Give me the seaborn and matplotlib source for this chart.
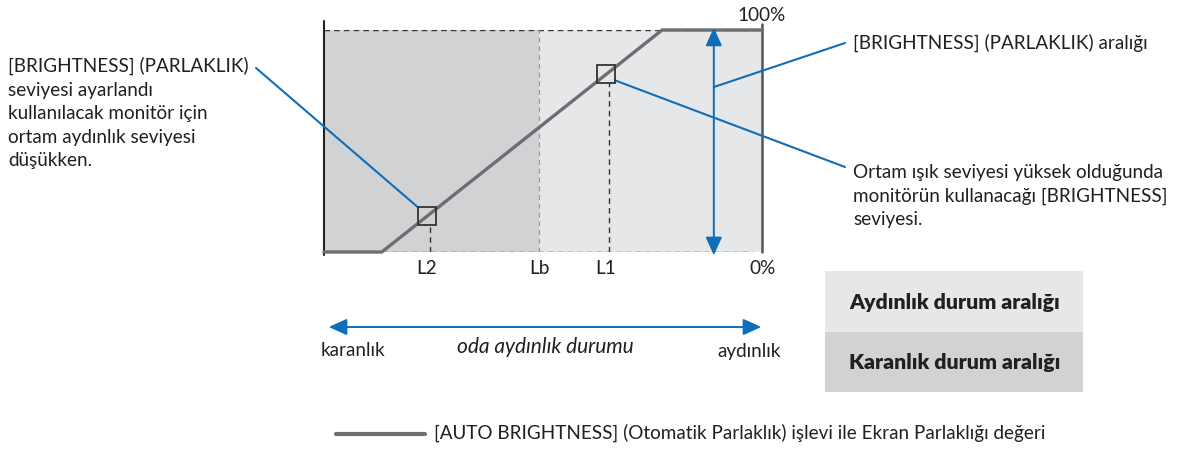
import numpy as np
import pandas as pd
import matplotlib.pyplot as plt
from matplotlib.patches import Rectangle, FancyArrowPatch, ArrowStyle
import seaborn as sns

# room light level (0 = dark, 100 = bright) vs screen brightness (%)
light = [0, 13.2, 77.2, 100]
brightness = [0, 0, 100, 100]
curve = pd.DataFrame({"light": light, "brightness": brightness})

marks = ["L2", "Lb", "L1"]
mark_x = [23.5, 49.1, 64.4]
pct_labels = ["0%", "100%"]

left_text = ("[BRIGHTNESS] (PARLAKLIK)\nseviyesi ayarlandı\nkullanılacak monitör için\n"
             "ortam aydınlık seviyesi\ndüşükken.")
range_text = "[BRIGHTNESS] (PARLAKLIK) aralığı"
high_text = "Ortam ışık seviyesi yüksek olduğunda\nmonitörün kullanacağı [BRIGHTNESS]\nseviyesi."
box_labels = ["Aydınlık durum aralığı", "Karanlık durum aralığı"]
legend_text = "[AUTO BRIGHTNESS] (Otomatik Parlaklık) işlevi ile Ekran Parlaklığı değeri"

BLUE = "#0F6EB9"
GRAY = "#6D6E71"
LIGHT = "#E6E7E8"
DARK = "#D1D2D4"
INK = "#231F20"

sns.set_theme(style="white")
plt.rcParams["font.family"] = ["Lato", "DejaVu Sans"]
FS = 13.6

W, H = 1192, 453
fig = plt.figure(figsize=(W / 100, H / 100), dpi=100)

# chart area in pixels
x0, x1, ytop, ybot = 324, 762, 30, 252
ax = fig.add_axes([x0 / W, 1 - ybot / H, (x1 - x0) / W, (ybot - ytop) / H])
ax.set_xlim(0, 100)
ax.set_ylim(0, 100)
ax.axis("off")

ax.add_patch(Rectangle((0, 0), mark_x[1], 100, color=DARK, lw=0, zorder=0))
ax.add_patch(Rectangle((mark_x[1], 0), 100 - mark_x[1], 100, color=LIGHT, lw=0, zorder=0))

dash = (0, (4, 3))
ax.plot([0, 100], [100, 100], color="#333333", lw=1, ls=dash, zorder=1)
ax.plot([0, 98], [0, 0], color="#333333", lw=1, ls=dash, zorder=1)
ax.plot([mark_x[1]] * 2, [0, 100], color="#9a9a9a", lw=0.9, ls=dash, zorder=1)
ax.plot([0, 0], [-1.5, 104], color="#222222", lw=1.5, clip_on=False, zorder=3)
ax.plot([100, 100], [0, 102.5], color="#555555", lw=1.8, clip_on=False, zorder=3)

sns.lineplot(data=curve, x="light", y="brightness", ax=ax, color=GRAY, lw=2.4,
             zorder=4, clip_on=False)

def on_curve(x):
    return float(np.interp(x, light, brightness))

hx, hy = 9 / 4.38, 9 / 2.22
for lx in [mark_x[0], mark_x[2]]:
    ly = on_curve(lx)
    ax.add_patch(Rectangle((lx - hx, ly - hy), 2 * hx, 2 * hy, fill=False,
                           ec="#333333", lw=1.3, zorder=5))
    ax.plot([lx + 0.6] * 2, [0, ly - hy], color="#333333", lw=1, ls=dash, zorder=2)

for name, lx in zip(marks, mark_x):
    ax.text(lx, -7.5, name, ha="center", va="center", fontsize=FS, color=INK)
ax.text(100.2, -7.5, pct_labels[0], ha="center", va="center", fontsize=FS, color=INK)
ax.text(100, 106.5, pct_labels[1], ha="center", va="center", fontsize=FS, color=INK)

# brightness range arrow
ax.add_patch(FancyArrowPatch((89, -2.7), (89, 102.3), arrowstyle=ArrowStyle("<|-|>", head_length=1.1, head_width=0.5),
                             mutation_scale=10, color=BLUE, lw=1.4, clip_on=False, zorder=6))

# leader lines
lp = dict(arrowstyle="-", color=BLUE, lw=1.5, shrinkA=0, shrinkB=0)
y2 = on_curve(mark_x[0])
ax.annotate("", xy=(mark_x[0] - hx, y2 + hy), xytext=(256, H - 68), textcoords="figure pixels",
            arrowprops=lp, annotation_clip=False)
ax.annotate("", xy=(89, 74.3), xytext=(845, H - 43), textcoords="figure pixels",
            arrowprops=lp, annotation_clip=False)
y1 = on_curve(mark_x[2])
ax.annotate("", xy=(mark_x[2] + hx, y1 - 2.7), xytext=(845, H - 167), textcoords="figure pixels",
            arrowprops=lp, annotation_clip=False)

# overlay in pixel coordinates for the text blocks
ov = fig.add_axes([0, 0, 1, 1], zorder=-1)
ov.set_xlim(0, W)
ov.set_ylim(H, 0)
ov.axis("off")

ov.text(8, 57, left_text, ha="left", va="top", fontsize=FS, color=INK, linespacing=1.46)
ov.text(853, 43, range_text, ha="left", va="center", fontsize=FS, color=INK)
ov.text(853, 164, high_text, ha="left", va="top", fontsize=FS, color=INK, linespacing=1.46)

ov.add_patch(Rectangle((825, 271), 258, 61, color=LIGHT, lw=0))
ov.add_patch(Rectangle((825, 332), 258, 60, color=DARK, lw=0))
ov.text(955, 302, box_labels[0], ha="center", va="center", fontsize=15.3, fontweight="heavy", color=INK)
ov.text(955, 362, box_labels[1], ha="center", va="center", fontsize=15.3, fontweight="heavy", color=INK)

ov.add_patch(FancyArrowPatch((326, 327), (764, 327), arrowstyle=ArrowStyle("<|-|>", head_length=1.1, head_width=0.5),
                             mutation_scale=10, color=BLUE, lw=1.4))
ov.text(321, 351, "karanlık", ha="left", va="center", fontsize=FS, color=INK)
ov.text(545, 347, "oda aydınlık durumu", ha="center", va="center", fontsize=15, style="italic", color=INK)
ov.text(781, 351, "aydınlık", ha="right", va="center", fontsize=FS, color=INK)

ov.plot([336, 425], [434, 434], color=GRAY, lw=3)
ov.text(434, 433, legend_text, ha="left", va="center", fontsize=FS, color=INK)

fig.savefig("out.png", dpi=100)
